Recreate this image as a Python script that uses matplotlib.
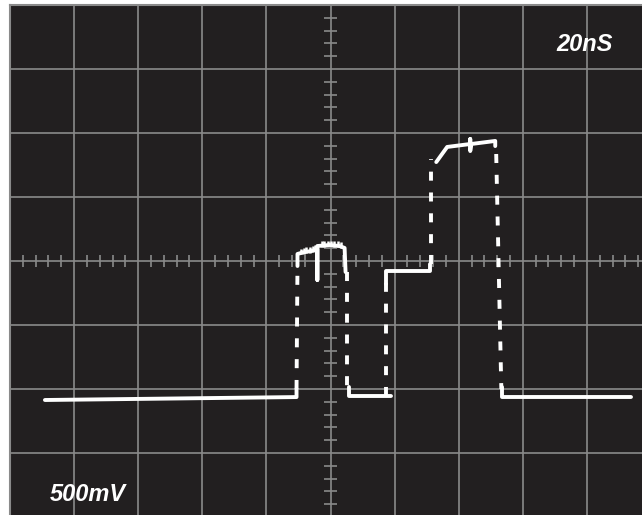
import matplotlib
matplotlib.use("Agg")
import matplotlib.pyplot as plt
import numpy as np

## scope settings: 20 ns/div, 500 mV/div, 10 x 8 divisions
ns_per_div = 20
mv_per_div = 500
n_xdiv = 10
n_ydiv = 8

## trace (time in ns, level in mV)
base1_t = [10.9, 89.4, 89.4]
base1_v = [-1086, -1063, -1000]

pulse1_t = [89.7, 89.7, 91.9, 94.1, 95.9, 95.9, 95.9, 99.7, 102.8, 104.4, 104.7]
pulse1_v = [-39, 55, 70, 78, 95, -148, 117, 125, 117, 102, -86]

# ripple on top of the first pulse
ripple_t = [90.7, 91.6, 92.5, 93.5, 94.4, 95.3, 97.2, 98.1, 99.1, 100.3, 101.2, 102.2, 103.4]
ripple_v = [62, 68, 72, 76, 80, 88, 120, 122, 124, 124, 121, 118, 110]

low2_t = [105.9, 105.9, 119.0]
low2_v = [-984, -1055, -1055]

step_t = [117.4, 117.4, 131.2, 131.2]
step_v = [-180, -78, -78, -23]

pulse2_t = [133.0, 136.4, 143.6, 143.6, 143.6, 143.9, 151.4, 151.4]
pulse2_v = [773, 891, 914, 953, 859, 914, 938, 898]

low3_t = [153.4, 153.4, 193.8]
low3_v = [-984, -1063, -1063]

# fast edges show up dotted on the scope
edge_t = [(89.4, 89.7), (105.0, 105.0), (117.4, 117.4), (131.5, 131.5), (151.7, 153.3)]
edge_v = [(-1000, -23), (-86, -1055), (-1055, -78), (-23, 797), (836, -1000)]

time_label = "20nS"
volt_label = "500mV"

bg = "#221f20"
grid_col = "#8a8a8a"
trace_col = "white"

plt.rcParams["lines.scale_dashes"] = False

fig = plt.figure(figsize=(6.42, 5.15), dpi=100)
fig.patch.set_facecolor("white")
# screen is a bit bigger than the picture, right and bottom edge are cut
ax = fig.add_axes([10 / 642, (515 - 5 - 512) / 515, 641 / 642, 512 / 515])
ax.set_facecolor(bg)

xmax = n_xdiv * ns_per_div
ymax = n_ydiv / 2 * mv_per_div
ax.set_xlim(0, xmax)
ax.set_ylim(-ymax, ymax)
ax.set_xticks([])
ax.set_yticks([])
for s in ax.spines.values():
    s.set_color(grid_col)
    s.set_linewidth(1.5)

## graticule
for x in np.arange(ns_per_div, xmax, ns_per_div):
    ax.axvline(x, color=grid_col, lw=1.2, zorder=1)
for y in np.arange(-ymax + mv_per_div, ymax, mv_per_div):
    ax.axhline(y, color=grid_col, lw=1.2, zorder=1)

# minor marks on the centre lines
xc = xmax / 2
tick_x = [x for x in np.arange(0, xmax, ns_per_div / 5) if x % ns_per_div != 0]
tick_y = [y for y in np.arange(-ymax, ymax, mv_per_div / 5) if y % mv_per_div != 0]
hx = mv_per_div * 0.1
hy = ns_per_div * 0.1
ax.vlines(tick_x, -hx, hx, color=grid_col, lw=1.2, zorder=1)
ax.hlines(tick_y, xc - hy, xc + hy, color=grid_col, lw=1.2, zorder=1)

## trace
kw = dict(color=trace_col, lw=2.8, solid_capstyle="round", solid_joinstyle="round", zorder=3)
for t, v in [(base1_t, base1_v), (pulse1_t, pulse1_v), (low2_t, low2_v),
             (step_t, step_v), (pulse2_t, pulse2_v), (low3_t, low3_v)]:
    ax.plot(t, v, **kw)
ax.vlines(ripple_t, np.array(ripple_v) - 10, np.array(ripple_v) + 35, color=trace_col, lw=1.8, zorder=3)
for t, v in zip(edge_t, edge_v):
    ax.plot(t, v, color=trace_col, lw=2.8, linestyle=(0, (6.5, 8.5)), dash_capstyle="butt", zorder=3)

## labels
font = dict(family="Liberation Sans", weight="bold", style="italic", size=17, color="white")
ax.text(170.5, 1640, time_label, ha="left", va="baseline", **font)
ax.text(12.5, -1875, volt_label, ha="left", va="baseline", **font)

fig.savefig("out.png", dpi=100, facecolor=fig.get_facecolor())
